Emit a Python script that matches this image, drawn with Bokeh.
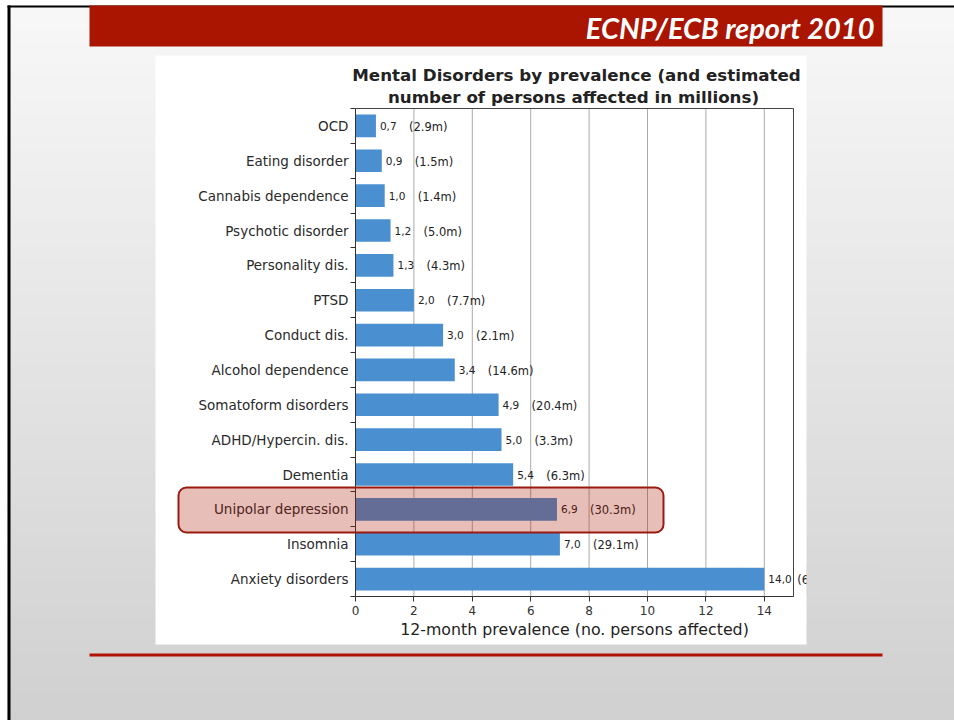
from bokeh.plotting import figure
from bokeh.models import Range1d, FixedTicker, BoxAnnotation, Label, LabelSet, ColumnDataSource
from bokeh.core.properties import value
from bokeh.embed import file_html
from bokeh.resources import INLINE

# ---------------- data ----------------
categories = ["OCD", "Eating disorder", "Cannabis dependence", "Psychotic disorder",
              "Personality dis.", "PTSD", "Conduct dis.", "Alcohol dependence",
              "Somatoform disorders", "ADHD/Hypercin. dis.", "Dementia",
              "Unipolar depression", "Insomnia", "Anxiety disorders"]
prevalence = [0.7, 0.9, 1.0, 1.2, 1.3, 2.0, 3.0, 3.4, 4.9, 5.0, 5.4, 6.9, 7.0, 14.0]
persons_millions = [2.9, 1.5, 1.4, 5.0, 4.3, 7.7, 2.1, 14.6, 20.4, 3.3, 6.3, 30.3, 29.1, 61.5]
x_ticks = [0, 2, 4, 6, 8, 10, 12, 14]
x_max = 15
title_lines = ["Mental Disorders by prevalence (and estimated",
               "number of persons affected in millions)"]
x_label = "12-month prevalence (no. persons affected)"
header = "ECNP/ECB report 2010"

n = len(categories)
ypos = list(range(n))
value_text = [f"{v:.1f}".replace(".", ",") for v in prevalence]
million_text = [f"({m:.1f}m)" for m in persons_millions]
src = ColumnDataSource(dict(y=ypos, v=prevalence, vt=value_text, mt=million_text))

# ---------------- page geometry (pixels) ----------------
W, H = 954, 720
PL, PR, PT, PB = 355, 793, 108, 596          # chart plot area inside the page
kx = (PR - PL) / x_max                        # px per x unit
ky = (PB - PT) / n                            # px per category row
x_range = Range1d(-PL / kx, (W - PL) / kx)
y_range = Range1d(-0.5 + (H - PT) / ky, -0.5 - PT / ky)   # reversed: first category on top

FONT = "DejaVu Sans"
p = figure(width=W, height=H, output_backend="svg", toolbar_location=None, title=None,
           x_range=x_range, y_range=y_range, min_border=0)
p.border_fill_color = "white"
p.background_fill_color = "white"
p.outline_line_color = None


def box(l, t, r, b, color, level="image", alpha=1.0, **kw):
    bx = BoxAnnotation(left=l, right=r, top=t, bottom=b,
                       left_units="canvas", right_units="canvas",
                       top_units="canvas", bottom_units="canvas",
                       fill_color=color, fill_alpha=alpha, level=level, **kw)
    if "line_color" not in kw:
        bx.line_color = None
        bx.line_alpha = 0
    p.add_layout(bx)
    return bx


def bg_gray(y):
    g = int(round(248 - 40 * y / H))
    return "#%02x%02x%02x" % (g, g, g)


# slide background (gradient) and black slide border
step = 12
y0 = 5
while y0 < H:
    box(7, y0, W + 10, min(H + 10, y0 + step + 1), bg_gray(y0 + step / 2))
    y0 += step
box(7, 5, W + 10, 7, "black")
box(7, 5, 10, H + 10, "black")
# header bar
box(89, 5, 882, 46, "#a91500")
# white chart picture
box(155, 55, 806, 644, "white")
# red rule under the chart
box(89, 653, 882, 656, "#b01400")
# chart frame (top / right border)
box(PL, PT, PR, PB, None, level="underlay", alpha=0, line_color="#444444",
    line_width=1, line_alpha=1)

p.add_layout(Label(x=874, y=27, x_units="canvas", y_units="canvas", text=header,
                   text_align="right", text_baseline="middle", text_color="white",
                   text_font="Lato", text_font_size="29px", text_font_style="bold italic"))
p.add_layout(Label(x=576, y=74, x_units="canvas", y_units="canvas", text=title_lines[0],
                   text_align="center", text_baseline="middle", text_color="#222222",
                   text_font=FONT, text_font_size="16.7px", text_font_style="bold"))
p.add_layout(Label(x=573, y=96, x_units="canvas", y_units="canvas", text=title_lines[1],
                   text_align="center", text_baseline="middle", text_color="#222222",
                   text_font=FONT, text_font_size="16.7px", text_font_style="bold"))

# ---------------- axes & grid ----------------
xax = p.xaxis[0]
xax.fixed_location = n - 0.5
xax.bounds = (0, x_max)
xax.ticker = FixedTicker(ticks=x_ticks, minor_ticks=[])
xax.major_tick_in = 0
xax.major_tick_out = 5
xax.axis_line_color = "#333333"
xax.major_tick_line_color = "#333333"
xax.major_label_text_font = FONT
xax.major_label_text_font_size = "12px"
xax.major_label_text_color = "#333333"
xax.major_label_standoff = 4
xax.axis_label = x_label
xax.axis_label_text_font = FONT
xax.axis_label_text_font_size = "15.8px"
xax.axis_label_text_font_style = "normal"
xax.axis_label_text_color = "#222222"
xax.axis_label_standoff = 2

yax = p.yaxis[0]
yax.fixed_location = 0
yax.bounds = (-0.5, n - 0.5)
yax.ticker = FixedTicker(ticks=ypos, minor_ticks=[i - 0.5 for i in range(n + 1)])
yax.major_label_overrides = {i: c for i, c in zip(ypos, categories)}
yax.major_tick_line_color = None
yax.major_tick_in = 0
yax.major_tick_out = 0
yax.minor_tick_in = 0
yax.minor_tick_out = 5
yax.minor_tick_line_color = "#333333"
yax.axis_line_color = "#333333"
yax.major_label_text_font = FONT
yax.major_label_text_font_size = "13.5px"
yax.major_label_text_color = "#2a2a2a"
yax.major_label_standoff = 2

p.xgrid[0].visible = False
p.ygrid[0].visible = False
# vertical grid lines at the tick values, spanning the chart rows
grid_x = [t for t in x_ticks if t > 0]
p.segment(x0=grid_x, x1=grid_x, y0=[-0.5] * len(grid_x), y1=[n - 0.5] * len(grid_x),
          line_color="#aaaaaa", line_width=1, level="underlay")

# ---------------- bars & labels ----------------
p.hbar(y="y", left=0, right="v", height=0.65, source=src,
       fill_color="#4a8fd0", line_color=None)

p.add_layout(LabelSet(x="v", y="y", text="vt", source=src, x_offset=4,
                      text_baseline="middle", text_font=value(FONT), text_font_size="10.5px",
                      text_color="#222222"))
p.add_layout(LabelSet(x="v", y="y", text="mt", source=src, x_offset=33, y_offset=-1,
                      text_baseline="middle", text_font=value(FONT), text_font_size="11.5px",
                      text_color="#222222"))

# the chart picture ends at its right edge: hide what overflows it
box(806, 566, 880, 594, bg_gray(580), level="annotation")

# highlight of unipolar depression
box(178, 487, 663, 532, "#aa1400", level="annotation", alpha=0.28,
    line_color="#9a1a10", line_width=2, line_alpha=1, border_radius=8)

open("out.html", "w").write(file_html(p, INLINE))
